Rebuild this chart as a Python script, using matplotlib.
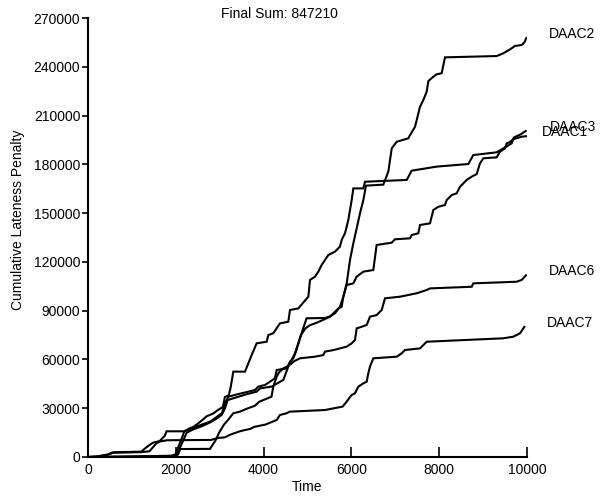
import matplotlib
matplotlib.use("Agg")
import matplotlib.pyplot as plt

plt.rcParams['font.family'] = ['Liberation Sans', 'DejaVu Sans']
plt.rcParams['font.size'] = 10

# cumulative lateness penalty per DAAC, (time, penalty) breakpoints
daac2_t = [0, 1000, 1900, 1990, 2100, 2200, 2400, 2600, 2800, 2950, 3050, 3120, 3200, 3424, 3700,
           3804, 3880, 4032, 4146, 4259, 4297, 4525, 4601, 4677, 4750, 4830, 4900, 4980, 5400,
           5513, 5626, 5740, 5816, 5893, 5968, 6044, 6196, 6272, 6332, 6727, 6841, 6918, 7032,
           7297, 7335, 7449, 7563, 7639, 7715, 7753, 7867, 7943, 8056, 8132, 9309, 9461, 9613,
           9727, 9879, 9940, 9985]
daac2_v = [0, 300, 800, 1500, 9000, 16000, 18000, 20000, 22000, 25000, 27000, 33000, 37100, 38700,
           40500, 41200, 43300, 44300, 46300, 48400, 53500, 54500, 58600, 60700, 66000, 73000,
           79000, 85300, 85500, 86500, 88400, 92400, 98600, 106800, 121200, 131400, 149900,
           158000, 166900, 167500, 175500, 189800, 193900, 196000, 198000, 203100, 215400,
           219600, 224700, 231200, 233900, 235400, 236000, 245800, 246600, 248300, 250700,
           252800, 253400, 255000, 257700]

daac3_t = [0, 200, 456, 570, 1215, 1300, 1400, 1480, 1630, 1745, 1790, 2210, 2300, 2400, 2500,
           2600, 2700, 2850, 2950, 3073, 3118, 3206, 3251, 3310, 3576, 3728, 3842, 4070, 4108,
           4221, 4373, 4563, 4601, 4791, 5019, 5057, 5171, 5247, 5322, 5474, 5626, 5740, 5778,
           5854, 5930, 6006, 6044, 6272, 6310, 7259, 7373, 7943, 8664, 8777, 9309, 9461, 9651,
           9700, 9860, 9970]
daac3_v = [0, 300, 1600, 2900, 3300, 5300, 7400, 8800, 9800, 12900, 15800, 15800, 17400, 18500,
           20500, 22600, 25000, 26700, 28700, 30800, 36900, 37900, 43000, 52500, 52500, 62700,
           69900, 70900, 75000, 76100, 82200, 83200, 90400, 91400, 98600, 108900, 110900, 114000,
           118100, 124200, 126300, 129400, 133500, 137600, 145800, 158000, 165200, 165200,
           169300, 170400, 176100, 178600, 180200, 185700, 187400, 189800, 192900, 196500,
           198500, 200500]

daac1_t = [0, 1000, 1950, 2000, 2100, 2250, 2400, 2600, 2800, 2950, 3050, 3120, 3180, 3310, 3600,
           3842, 3918, 4184, 4449, 4563, 4639, 4720, 4790, 4850, 4950, 5050, 5200, 5330, 5513,
           5702, 5778, 5816, 5893, 6044, 6120, 6272, 6499, 6575, 6918, 6993, 7335, 7373, 7524,
           7563, 7790, 7866, 7980, 8132, 8170, 8285, 8398, 8474, 8626, 8740, 8854, 8929, 9005,
           9309, 9385, 9499, 9537, 9600, 9689, 9879, 9975]
daac1_v = [0, 200, 500, 1000, 6000, 15000, 17000, 19000, 21500, 24000, 26000, 30000, 35000, 36100,
           38500, 40200, 42200, 43300, 47400, 55600, 59700, 64000, 70000, 75000, 79000, 81000,
           82500, 84000, 86300, 91400, 92400, 98600, 105800, 106800, 110900, 114000, 115000,
           130400, 131800, 133900, 134500, 136500, 137600, 142700, 143700, 151900, 153900,
           155000, 158000, 161100, 162200, 166200, 170400, 172400, 174000, 180600, 183700,
           184300, 187800, 189800, 192900, 193500, 195500, 197000, 197300]

daac6_t = [0, 1000, 1950, 2050, 2100, 2780, 2900, 3000, 3100, 3190, 3310, 3460, 3600, 3800, 3900,
           4180, 4221, 4297, 4350, 4450, 4560, 4639, 4700, 4829, 5171, 5360, 5398, 5600, 5740,
           5892, 6006, 6082, 6120, 6234, 6348, 6424, 6575, 6690, 6765, 7107, 7487, 7715, 7790,
           8740, 8777, 9765, 9879, 9975]
daac6_v = [0, 100, 400, 1500, 4900, 5000, 10000, 15600, 20000, 22800, 26900, 27900, 29500, 31500,
           34000, 37100, 43300, 49400, 52000, 54500, 56000, 57600, 59000, 60700, 61700, 62700,
           64800, 65800, 66800, 67900, 69900, 72000, 79100, 80100, 81200, 86300, 87300, 90400,
           97600, 98600, 100700, 102700, 103700, 104700, 106800, 107800, 108900, 111700]

daac7_t = [0, 200, 456, 570, 1215, 1400, 1480, 1560, 1650, 1800, 2800, 2970, 3120, 3235, 3460,
           3560, 3700, 3780, 4050, 4180, 4300, 4370, 4520, 4600, 5400, 5800, 5890, 6000, 6080,
           6160, 6272, 6348, 6385, 6423, 6499, 7032, 7146, 7221, 7563, 7715, 9461, 9689, 9841,
           9939]
daac7_v = [0, 200, 1400, 2600, 3000, 3500, 6000, 8500, 9600, 10300, 10500, 11700, 12100, 13700,
           15800, 16500, 17300, 18500, 20000, 21500, 22800, 25800, 26900, 27900, 28900, 31000,
           34000, 38000, 39200, 43300, 45300, 46300, 51500, 55600, 60700, 61700, 63800, 65800,
           66800, 70900, 73000, 74000, 76100, 80010]

names = ["DAAC2", "DAAC3", "DAAC1", "DAAC6", "DAAC7"]
series = [(daac2_t, daac2_v), (daac3_t, daac3_v), (daac1_t, daac1_v),
          (daac6_t, daac6_v), (daac7_t, daac7_v)]

# where each name sits to the right of the plot (time units)
label_x = {"DAAC2": 10508, "DAAC3": 10524, "DAAC1": 10334, "DAAC6": 10501, "DAAC7": 10463}

fig = plt.figure(figsize=(6.09, 4.97), dpi=100)
ax = fig.add_axes([88 / 609, 40 / 497, 439 / 609, 439 / 497])

total = 0
for name, (t, v) in zip(names, series):
    ax.plot(t, v, color="black", lw=1.5, solid_joinstyle="miter")
    ax.text(label_x[name], v[-1], name, va="baseline", ha="left", clip_on=False)
    total += v[-1]

ax.text(0.4365, 1.0, "Final Sum: %d" % round(total), transform=ax.transAxes,
        ha="center", va="baseline")

ax.set_xlim(0, 10000)
ax.set_ylim(0, 270000)
ax.set_xticks(range(0, 10001, 2000))
ax.set_yticks(range(0, 270001, 30000))
ax.ticklabel_format(style="plain", axis="y")

ax.spines["top"].set_visible(False)
ax.spines["right"].set_visible(False)
for s in ("left", "bottom"):
    ax.spines[s].set_linewidth(1.5)

ax.tick_params(axis="x", direction="in", length=7.5, width=1.2, pad=4)
ax.tick_params(axis="y", direction="out", length=4.5, width=1.2, pad=1)

ax.set_xlabel("Time", va="center")
ax.xaxis.set_label_coords(0.5, -0.068)
ax.set_ylabel("Cumulative Lateness Penalty", va="center")
ax.yaxis.set_label_coords(-0.159, 0.54)

fig.savefig("out.png", dpi=100)
